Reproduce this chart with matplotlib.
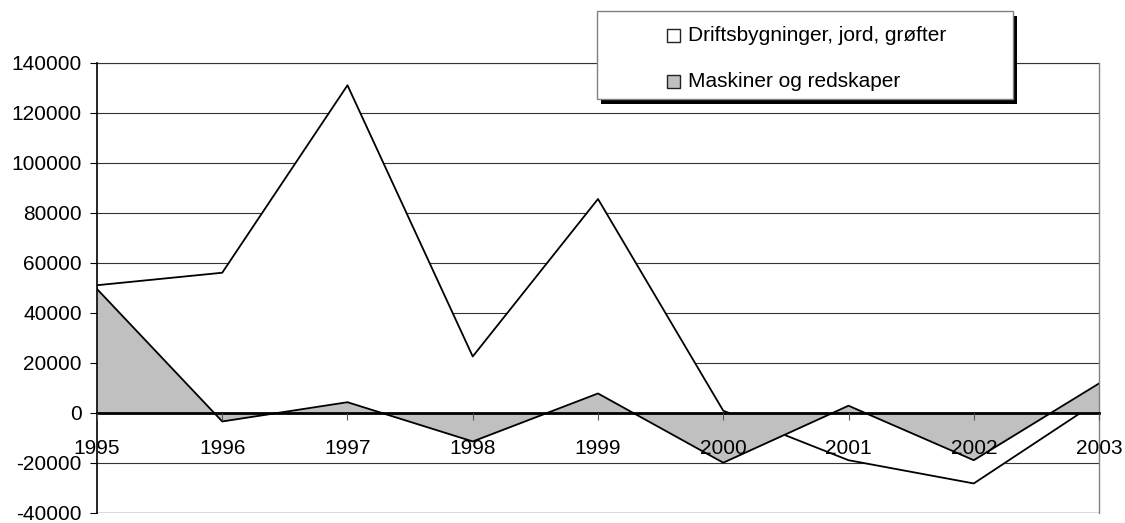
import matplotlib.pyplot as plt
from matplotlib.patches import Rectangle

years = [1995, 1996, 1997, 1998, 1999, 2000, 2001, 2002, 2003]
drifts = [51000, 56000, 131000, 22500, 85500, 800, -19000, -28300, 4800]
maskiner = [49500, -3500, 4200, -11500, 7700, -20000, 2800, -19000, 11700]
yticks = list(range(-40000, 140001, 20000))
labels = ['Driftsbygninger, jord, grøfter', 'Maskiner og redskaper']
colors = ['white', '#c0c0c0']

plt.rcParams['font.family'] = ['Liberation Sans', 'DejaVu Sans']

fig = plt.figure(figsize=(11.25, 5.23), dpi=100)
ax = fig.add_axes([0.0862, 0.0197, 0.8907, 0.8603])

# x axis sits on the zero line (set before ticks, it resets them)
ax.spines['bottom'].set_position(('data', 0))

# areas overlap, grey one drawn in front
ax.fill_between(years, drifts, 0, color=colors[0], lw=0, zorder=2)
ax.plot(years, drifts, color='black', lw=1.3, zorder=3)
ax.fill_between(years, maskiner, 0, color=colors[1], lw=0, zorder=4)
ax.plot(years, maskiner, color='black', lw=1.3, zorder=5)

ax.set_xlim(1995, 2003)
ax.set_ylim(-40000, 140000)
ax.set_yticks(yticks)
ax.set_xticks(years)
ax.set_yticklabels([str(v) for v in yticks])
ax.set_xticklabels([str(y) for y in years])

ax.yaxis.grid(True, color='#333333', lw=0.8)
ax.yaxis.set_zorder(1)
ax.xaxis.set_zorder(7)

ax.spines['bottom'].set_linewidth(2)
ax.spines['bottom'].set_zorder(6)
ax.spines['left'].set_linewidth(1.2)
ax.spines['left'].set_zorder(6)
ax.spines['top'].set_color('#333333')
ax.spines['top'].set_linewidth(0.8)
ax.spines['right'].set_color('#808080')
ax.spines['right'].set_linewidth(1)
ax.spines['right'].set_zorder(6)

ax.tick_params(axis='x', direction='out', length=5, width=0.8, color='#555555',
               pad=14, labelsize=15)
ax.tick_params(axis='y', direction='out', length=5, width=0.8, pad=6, labelsize=15)

# bottom of plot area
ax.axhline(-40000, color='#808080', lw=1, zorder=1)

# legend box with shadow
W, H = 1125, 523
def fx(px):
    return px / W
def fy(py):
    return 1 - py / H

fig.patches.append(Rectangle((fx(601), fy(104)), fx(416), 88 / H, transform=fig.transFigure,
                             facecolor='black', edgecolor='none', zorder=1))
fig.patches.append(Rectangle((fx(597), fy(99)), fx(416), 88 / H, transform=fig.transFigure,
                             facecolor='white', edgecolor='#808080', lw=1, zorder=2))
for i, (lab, c) in enumerate(zip(labels, colors)):
    cy = 35.5 + i * 46
    fig.patches.append(Rectangle((fx(667), fy(cy + 6.5)), fx(13), 13 / H, transform=fig.transFigure,
                                 facecolor=c, edgecolor='#222222', lw=1, zorder=3))
    fig.text(fx(688), fy(cy), lab, fontsize=15, va='center', ha='left', zorder=4)

fig.savefig('out.png', dpi=100)
